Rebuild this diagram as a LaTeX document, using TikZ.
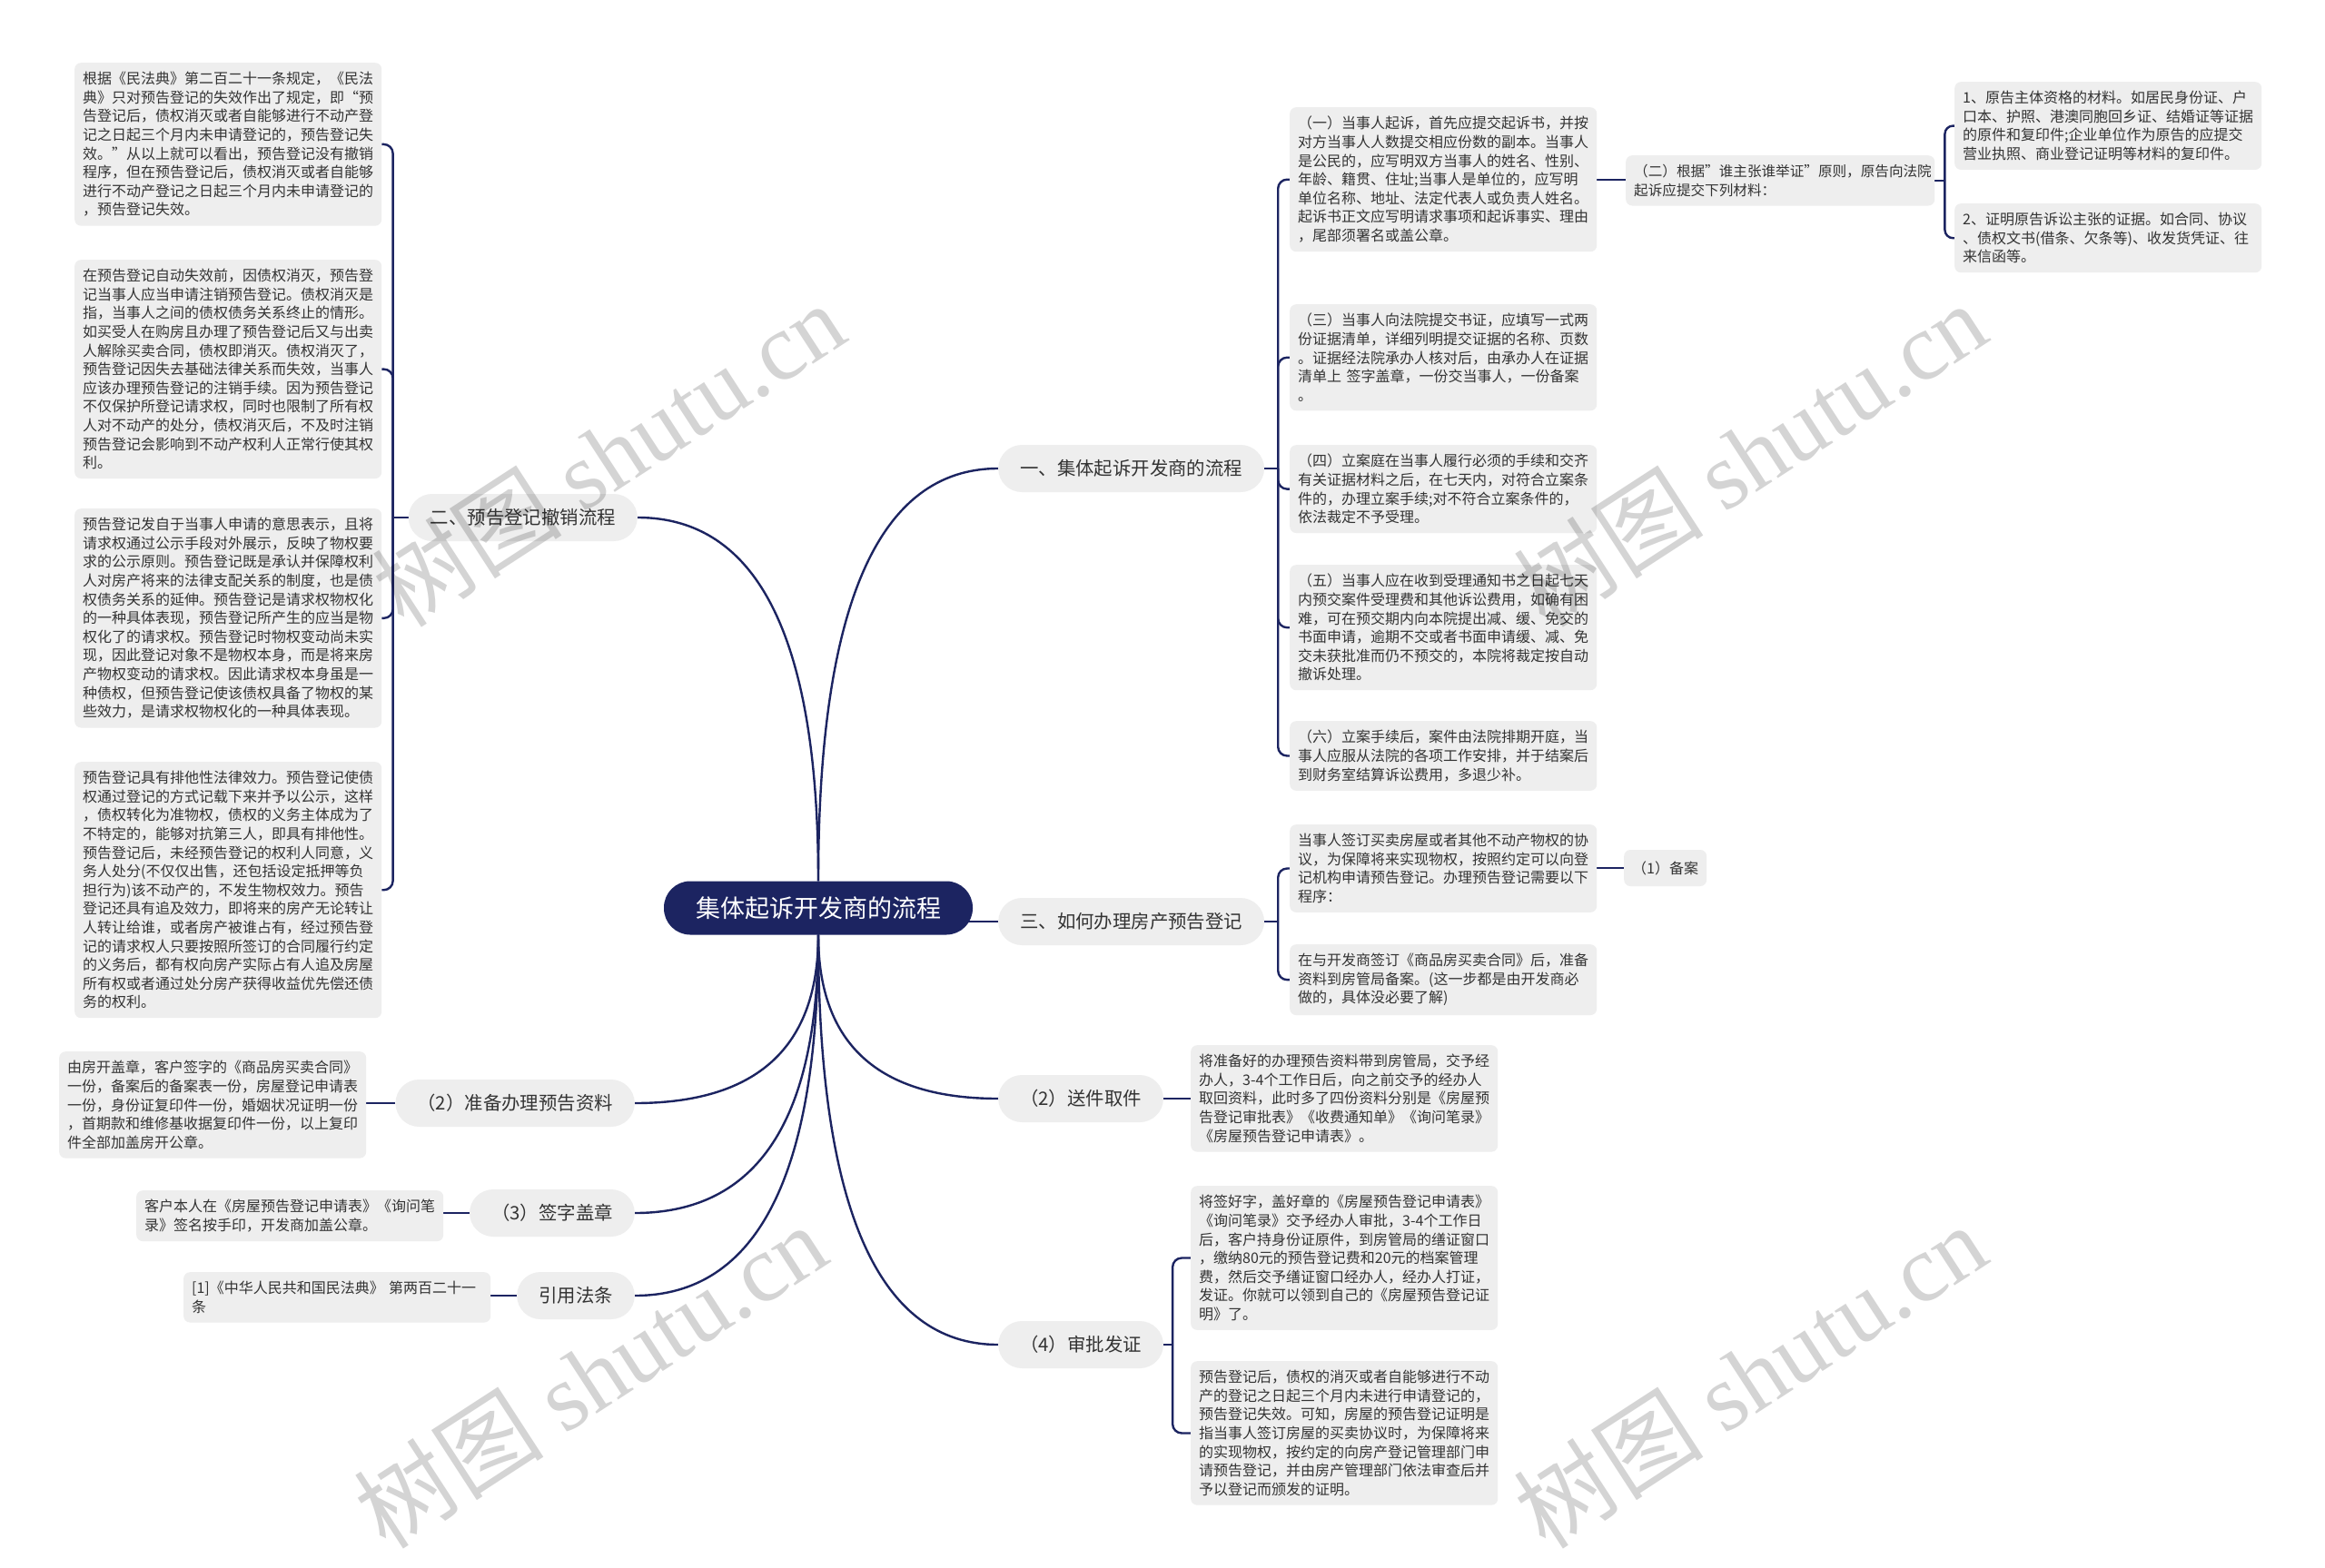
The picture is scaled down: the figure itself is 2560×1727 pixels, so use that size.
\documentclass[tikz,border=0pt]{standalone}
\usepackage{fontspec}
\setmainfont{Noto Sans CJK SC}
\newfontfamily\wmserif{Liberation Serif}
\usetikzlibrary{calc}
\definecolor{navy}{HTML}{1C2461}
\definecolor{boxgray}{HTML}{EEEEEE}
\definecolor{txt}{HTML}{333333}
\pgfdeclarelayer{bg}
\pgfsetlayers{bg,main}
\tikzset{
 conn/.style={draw=navy, line width=2.4pt},
 detail/.style={fill=boxgray, rounded corners=7pt, text width=320pt, align=left, inner xsep=9pt, inner ysep=10pt, text=txt, font=\fontsize{16}{20.6}\selectfont, anchor=north west},
 lvl/.style={fill=boxgray, rounded corners=26pt, minimum height=52pt, inner xsep=24pt, text=txt, font=\fontsize{20.4}{24}\selectfont},
 smallbox/.style={fill=boxgray, rounded corners=7pt, minimum height=40pt, inner xsep=9pt, text=txt, font=\fontsize{16}{20.6}\selectfont},
 root/.style={fill=navy, rounded corners=29pt, minimum height=59pt, minimum width=340pt, text=white, font=\fontsize{27}{32}\selectfont},
 wm/.style={text=black, opacity=0.17, rotate=33, font=\fontsize{105}{115}\selectfont}
}
\newcommand\qc[2]{\draw[conn] (#1) .. controls ($(#1)!0.667!(#1|-#2)$) and ($(#2)!0.667!(#1|-#2)$) .. (#2);}
\begin{document}
\begin{tikzpicture}[x=1pt,y=-1pt]
\begin{pgfonlayer}{bg}
\fill[white] (0,0) rectangle (2560,1727);
\end{pgfonlayer}
\useasboundingbox (0,0) rectangle (2560,1727);

% root and main branches
\node[root] (ctr) at (901,1000) {集体起诉开发商的流程};
\node[lvl, anchor=west] (b1) at (1099,516) {一、集体起诉开发商的流程};
\node[lvl, anchor=east] (b2) at (702,570) {二、预告登记撤销流程};
\node[lvl, anchor=west] (b3) at (1099,1015) {三、如何办理房产预告登记};
\node[lvl, anchor=east] (b4) at (699,1215) {（2）准备办理预告资料};
\node[lvl, anchor=east] (b5) at (699,1336) {（3）签字盖章};
\node[lvl, anchor=east] (b6) at (699,1427) {引用法条};
\node[lvl, anchor=west] (b7) at (1099,1210) {（2）送件取件};
\node[lvl, anchor=west] (b8) at (1099,1481) {（4）审批发证};

% left details of 二
\node[detail] (l1) at (82,69) {根据《民法典》第二百二十一条规定，《民法\\典》只对预告登记的失效作出了规定，即“预\\告登记后，债权消灭或者自能够进行不动产登\\记之日起三个月内未申请登记的，预告登记失\\效。”从以上就可以看出，预告登记没有撤销\\程序，但在预告登记后，债权消灭或者自能够\\进行不动产登记之日起三个月内未申请登记的\\，预告登记失效。};
\node[detail] (l2) at (82,286) {在预告登记自动失效前，因债权消灭，预告登\\记当事人应当申请注销预告登记。债权消灭是\\指，当事人之间的债权债务关系终止的情形。\\如买受人在购房且办理了预告登记后又与出卖\\人解除买卖合同，债权即消灭。债权消灭了，\\预告登记因失去基础法律关系而失效，当事人\\应该办理预告登记的注销手续。因为预告登记\\不仅保护所登记请求权，同时也限制了所有权\\人对不动产的处分，债权消灭后，不及时注销\\预告登记会影响到不动产权利人正常行使其权\\利。};
\node[detail] (l3) at (82,560) {预告登记发自于当事人申请的意思表示，且将\\请求权通过公示手段对外展示，反映了物权要\\求的公示原则。预告登记既是承认并保障权利\\人对房产将来的法律支配关系的制度，也是债\\权债务关系的延伸。预告登记是请求权物权化\\的一种具体表现，预告登记所产生的应当是物\\权化了的请求权。预告登记时物权变动尚未实\\现，因此登记对象不是物权本身，而是将来房\\产物权变动的请求权。因此请求权本身虽是一\\种债权，但预告登记使该债权具备了物权的某\\些效力，是请求权物权化的一种具体表现。};
\node[detail] (l4) at (82,839) {预告登记具有排他性法律效力。预告登记使债\\权通过登记的方式记载下来并予以公示，这样\\，债权转化为准物权，债权的义务主体成为了\\不特定的，能够对抗第三人，即具有排他性。\\预告登记后，未经预告登记的权利人同意，义\\务人处分(不仅仅出售，还包括设定抵押等负\\担行为)该不动产的，不发生物权效力。预告\\登记还具有追及效力，即将来的房产无论转让\\人转让给谁，或者房产被谁占有，经过预告登\\记的请求权人只要按照所签订的合同履行约定\\的义务后，都有权向房产实际占有人追及房屋\\所有权或者通过处分房产获得收益优先偿还债\\务的权利。};

% lower-left details
\node[detail] (ll1) at (65,1158) {由房开盖章，客户签字的《商品房买卖合同》\\一份，备案后的备案表一份，房屋登记申请表\\一份，身份证复印件一份，婚姻状况证明一份\\，首期款和维修基收据复印件一份，以上复印\\件全部加盖房开公章。};
\node[detail] (ll2) at (150,1311) {客户本人在《房屋预告登记申请表》《询问笔\\录》签名按手印，开发商加盖公章。};
\node[detail] (ll3) at (202,1401) {[1]《中华人民共和国民法典》 第两百二十一\\条};

% right details of 一
\node[detail] (r1) at (1420,118) {（一）当事人起诉，首先应提交起诉书，并按\\对方当事人人数提交相应份数的副本。当事人\\是公民的，应写明双方当事人的姓名、性别、\\年龄、籍贯、住址;当事人是单位的，应写明\\单位名称、地址、法定代表人或负责人姓名。\\起诉书正文应写明请求事项和起诉事实、理由\\，尾部须署名或盖公章。};
\node[detail, text width=322pt, font=\fontsize{15.6}{20.6}\selectfont] (r1b) at (1790,171) {（二）根据"谁主张谁举证"原则，原告向法院\\起诉应提交下列材料：};
\node[detail] (rr1) at (2152,90) {1、原告主体资格的材料。如居民身份证、户\\口本、护照、港澳同胞回乡证、结婚证等证据\\的原件和复印件;企业单位作为原告的应提交\\营业执照、商业登记证明等材料的复印件。};
\node[detail] (rr2) at (2152,224) {2、证明原告诉讼主张的证据。如合同、协议\\、债权文书(借条、欠条等)、收发货凭证、往\\来信函等。};
\node[detail] (r2) at (1420,335) {（三）当事人向法院提交书证，应填写一式两\\份证据清单，详细列明提交证据的名称、页数\\。证据经法院承办人核对后，由承办人在证据\\清单上 签字盖章，一份交当事人，一份备案\\。};
\node[detail] (r3) at (1420,490) {（四）立案庭在当事人履行必须的手续和交齐\\有关证据材料之后，在七天内，对符合立案条\\件的，办理立案手续;对不符合立案条件的，\\依法裁定不予受理。};
\node[detail] (r4) at (1420,622) {（五）当事人应在收到受理通知书之日起七天\\内预交案件受理费和其他诉讼费用，如确有困\\难，可在预交期内向本院提出减、缓、免交的\\书面申请，逾期不交或者书面申请缓、减、免\\交未获批准而仍不预交的，本院将裁定按自动\\撤诉处理。};
\node[detail] (r5) at (1420,794) {（六）立案手续后，案件由法院排期开庭，当\\事人应服从法院的各项工作安排，并于结案后\\到财务室结算诉讼费用，多退少补。};

% details of 三
\node[detail] (m1) at (1420,908) {当事人签订买卖房屋或者其他不动产物权的协\\议，为保障将来实现物权，按照约定可以向登\\记机构申请预告登记。办理预告登记需要以下\\程序：};
\node[smallbox, anchor=west] (m1b) at (1788,956) {（1）备案};
\node[detail] (m2) at (1420,1040) {在与开发商签订《商品房买卖合同》后，准备\\资料到房管局备案。(这一步都是由开发商必\\做的，具体没必要了解)};

% details of lower right
\node[detail] (d1) at (1311,1151) {将准备好的办理预告资料带到房管局，交予经\\办人，3-4个工作日后，向之前交予的经办人\\取回资料，此时多了四份资料分别是《房屋预\\告登记审批表》《收费通知单》《询问笔录》\\《房屋预告登记申请表》。};
\node[detail] (d2) at (1311,1306) {将签好字，盖好章的《房屋预告登记申请表》\\《询问笔录》交予经办人审批，3-4个工作日\\后，客户持身份证原件，到房管局的缮证窗口\\，缴纳80元的预告登记费和20元的档案管理\\费，然后交予缮证窗口经办人，经办人打证，\\发证。你就可以领到自己的《房屋预告登记证\\明》了。};
\node[detail] (d3) at (1311,1499) {预告登记后，债权的消灭或者自能够进行不动\\产的登记之日起三个月内未进行申请登记的，\\预告登记失效。可知，房屋的预告登记证明是\\指当事人签订房屋的买卖协议时，为保障将来\\的实现物权，按约定的向房产登记管理部门申\\请预告登记，并由房产管理部门依法审查后并\\予以登记而颁发的证明。};

% connectors
\begin{pgfonlayer}{bg}
\qc{ctr.north}{b1.west}
\qc{ctr.north}{b2.east}
\qc{ctr.south}{b4.east}
\qc{ctr.south}{b5.east}
\qc{ctr.south}{b6.east}
\qc{ctr.south}{b7.west}
\qc{ctr.south}{b8.west}
\draw[conn] ($(ctr.east|-b3.west)+(-10,0)$) -- (b3.west);

\coordinate (j1) at ($(b1.east)+(15,0)$);
\draw[conn] (b1.east) -- (j1);
\foreach \c in {r1,r2,r3,r4,r5} \draw[conn, rounded corners=10pt] (j1) |- (\c.west);

\coordinate (j2) at ($(b2.west)+(-17,0)$);
\draw[conn] (b2.west) -- (j2);
\foreach \c in {l1,l2,l3,l4} \draw[conn, rounded corners=10pt] (j2) |- (\c.east);

\draw[conn] (r1.east) -- (r1.east -| r1b.west);
\coordinate (j3) at ($(r1b.east)+(11,0)$);
\draw[conn] (r1b.east) -- (j3);
\foreach \c in {rr1,rr2} \draw[conn, rounded corners=9pt] (j3) |- (\c.west);

\coordinate (j4) at ($(b3.east)+(15,0)$);
\draw[conn] (b3.east) -- (j4);
\foreach \c in {m1,m2} \draw[conn, rounded corners=10pt] (j4) |- (\c.west);
\draw[conn] (m1b.west -| m1.east) -- (m1b.west);

\draw[conn] (b7.east) -- (b7.east -| d1.west);
\coordinate (j5) at ($(b8.east)+(10,0)$);
\draw[conn] (b8.east) -- (j5);
\foreach \c in {d2,d3} \draw[conn, rounded corners=10pt] (j5) |- (\c.west);

\draw[conn] (b4.west) -- (b4.west -| ll1.east);
\draw[conn] (b5.west) -- (b5.west -| ll2.east);
\draw[conn] (b6.west) -- (b6.west -| ll3.east);
\end{pgfonlayer}

% watermarks
\node[wm] (w1) at (670,500) {树图 {\wmserif shutu.cn}};
\node[wm] (w2) at (1927,500) {树图 {\wmserif shutu.cn}};
\node[wm] (w3) at (650,1515) {树图 {\wmserif shutu.cn}};
\node[wm] (w4) at (1927,1515) {树图 {\wmserif shutu.cn}};
\end{tikzpicture}
\end{document}
